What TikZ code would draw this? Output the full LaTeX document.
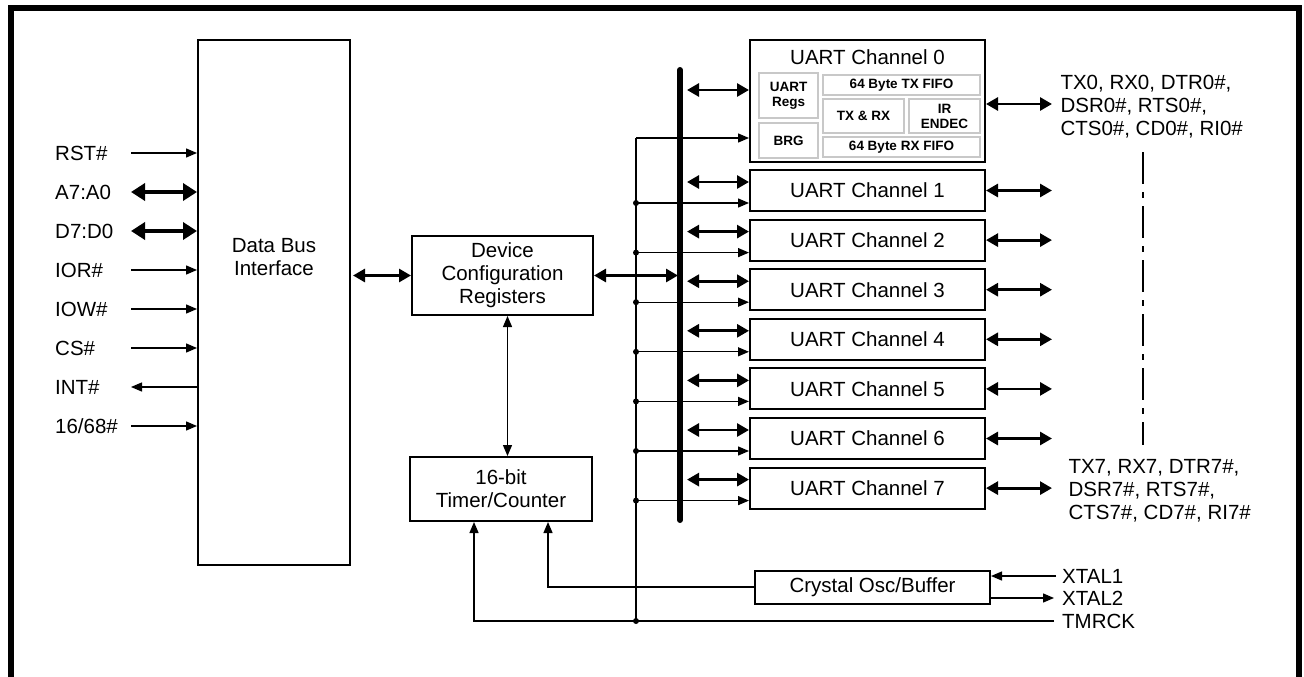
\documentclass[tikz,border=0pt]{standalone}
\usepackage{fontspec}
\setmainfont{Liberation Sans}
\usetikzlibrary{positioning,arrows.meta,calc}
\definecolor{regGray}{RGB}{200,200,200}

\begin{document}
\begin{tikzpicture}[
    x=1pt, y=-1pt,
    font=\fontsize{20.5}{23}\selectfont,
    block/.style={rectangle, draw, line width=2pt, inner sep=0pt, align=center},
    sub block/.style={rectangle, draw=regGray, line width=2pt, inner sep=0pt, align=center, font=\fontsize{13.5}{15}\selectfont\bfseries},
    pin label/.style={anchor=west, inner sep=0pt, text height=14.5pt, text depth=0pt},
    thin arrow/.style={line width=1.3pt, -{Triangle[length=11pt,width=9pt]}},
    link arrow/.style={line width=1.3pt, {Triangle[length=11pt,width=9pt]}-{Triangle[length=11pt,width=9pt]}},
    bus arrow/.style={line width=2.8pt, {Triangle[length=12pt,width=13pt]}-{Triangle[length=12pt,width=13pt]}},
    wide arrow/.style={line width=4pt, {Triangle[length=14pt,width=17pt]}-{Triangle[length=14pt,width=17pt]}},
    wire/.style={line width=1.3pt}
]
  \useasboundingbox (0,0) rectangle (1304,677);
  % outer frame, open at the bottom
  \draw[line width=6pt] (11,690) -- (11,8) -- (1299,8) -- (1299,690);

  % main blocks
  \node[block, minimum width=152pt, minimum height=525pt] (dbi) at (274,302.5) {};
  \node (dbitext) at (274,257) [align=center] {Data Bus\\Interface};
  \node[block, minimum width=181pt, minimum height=79pt] (dcr) at (502.5,275.5) {Device\\Configuration\\Registers};
  \node[block, minimum width=182pt, minimum height=64pt] (timer) at (501,489) {16-bit\\Timer/Counter};
  \node[block, minimum width=235pt, minimum height=33pt] (xtal) at (872.5,587) {Crystal Osc/Buffer};

  % channel 0 with its inner blocks
  \node[block, minimum width=235pt, minimum height=122pt] (uart0) at (867.5,101) {};
  \node (uart0title) at (867.5,57) {UART Channel 0};
  \node[sub block, minimum width=59pt, minimum height=45pt] (regs) at (788.5,95.5) {UART\\Regs};
  \node[sub block, minimum width=59pt, minimum height=35pt] (brg) at (788.5,140.5) {BRG};
  \node[sub block, minimum width=157pt, minimum height=20pt] (txfifo) at (901.5,85) {64 Byte TX FIFO};
  \node[sub block, minimum width=81pt, minimum height=34pt] (txrx) at (863.5,116) {TX \& RX};
  \node[sub block, minimum width=71pt, minimum height=34pt] (endec) at (944.5,116) {IR\\ENDEC};
  \node[sub block, minimum width=157pt, minimum height=20pt] (rxfifo) at (901.5,147) {64 Byte RX FIFO};

  % channels 1 to 7
  \foreach \i in {1,...,7}{
    \pgfmathsetmacro{\cy}{190.5+(\i-1)*49.6}
    \node[block, minimum width=235pt, minimum height=41pt] (uart\i) at (867.5,\cy) {UART Channel \i};
  }

  % internal bus and clock line
  \coordinate (busN) at (680,70);
  \coordinate (busS) at (680,520);
  \coordinate (busR) at (687,0);
  \coordinate (busL) at (678,0);
  \coordinate (clk) at (636,138);
  \coordinate (clkS) at (636,621);
  \coordinate (outx) at (1052,0);
  \draw[line width=6pt, line cap=round] (busN) -- (busS);
  \draw[wire] (clk) -- (clkS);
  \fill (clkS) circle (3pt);

  \draw[bus arrow] (busR |- 0,90) -- (uart0.west |- 0,90);
  \draw[thin arrow] (clk) -- (uart0.west |- clk);
  \draw[bus arrow] (uart0.east |- 0,104) -- (outx |- 0,104);
  \foreach \i in {1,...,7}{
    \coordinate (ua\i) at ($(uart\i.west)+(0,-8.5)$);
    \coordinate (uc\i) at ($(uart\i.west)+(0,12.5)$);
    \draw[bus arrow] (busR |- ua\i) -- (ua\i);
    \fill (clk |- uc\i) circle (3pt);
    \draw[thin arrow] (clk |- uc\i) -- (uc\i);
    \draw[bus arrow] (uart\i.east) -- (outx |- uart\i.east);
  }

  \draw[bus arrow, shorten <=2pt] (dbi.east |- dcr.west) -- (dcr.west);
  \draw[bus arrow] (dcr.east) -- (busL |- dcr.east);
  \draw[link arrow] ([xshift=5pt]dcr.south) -- ([xshift=5pt]dcr.south |- timer.north);

  % host side pins
  \foreach \nm/\txt/\yy in {rst/RST\#/153, addr/A7:A0/192, data/D7:D0/231, ior/IOR\#/270, iow/IOW\#/309, cs/CS\#/348, int/INT\#/387, mode/{16/68\#}/426}{
    \node[pin label] (\nm) at (55,\yy) {\txt};
  }
  \coordinate (pinx) at (131,0);
  \draw[thin arrow] (pinx |- rst) -- (dbi.west |- rst);
  \draw[wide arrow] (pinx |- addr) -- (dbi.west |- addr);
  \draw[wide arrow] (pinx |- data) -- (dbi.west |- data);
  \draw[thin arrow] (pinx |- ior) -- (dbi.west |- ior);
  \draw[thin arrow] (pinx |- iow) -- (dbi.west |- iow);
  \draw[thin arrow] (pinx |- cs) -- (dbi.west |- cs);
  \draw[thin arrow] (dbi.west |- int) -- (pinx |- int);
  \draw[thin arrow] (pinx |- mode) -- (dbi.west |- mode);

  % serial side
  \node[anchor=west, align=left] (ser0) at (1057,107) {TX0, RX0, DTR0\#,\\DSR0\#, RTS0\#,\\CTS0\#, CD0\#, RI0\#};
  \node[anchor=west, align=left] (ser7) at (1065,491) {TX7, RX7, DTR7\#,\\DSR7\#, RTS7\#,\\CTS7\#, CD7\#, RI7\#};
  \draw[wire, dash pattern=on 32pt off 8pt on 6pt off 8pt] (1143,152) -- (1143,445);

  % clock inputs
  \node[pin label] (xtal1) at (1062,576) {XTAL1};
  \node[pin label] (xtal2) at (1062,598) {XTAL2};
  \node[pin label] (tmrck) at (1062,621) {TMRCK};
  \draw[thin arrow] ([xshift=-6pt]xtal1.west) -- (xtal.east |- xtal1);
  \draw[thin arrow] (xtal.east |- xtal2) -- ([xshift=-8pt]xtal2.west);
  \draw[thin arrow] ([xshift=-8pt]tmrck.west) -| ([xshift=-27pt]timer.south);
  \draw[thin arrow] (xtal.west) -| ([xshift=47pt]timer.south);
\end{tikzpicture}
\end{document}
